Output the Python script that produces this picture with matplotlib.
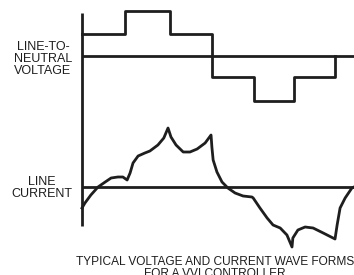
import matplotlib
matplotlib.use("Agg")
import matplotlib.pyplot as plt

plt.rcParams["font.family"] = ["Liberation Sans", "DejaVu Sans"]

# six-step line-to-neutral voltage (time in step periods, level in steps)
step_times = [0, 1.02, 2.09, 3.08, 4.08, 5.03, 6.0]
step_levels = [1.0, 2.0, 1.0, -0.95, -2.0, -0.95, 0.0]

# line current (time in step periods, arbitrary units)
cur_t = [0.00, 0.07, 0.21, 0.38, 0.55, 0.69, 0.85, 0.97, 1.07,
         1.14, 1.21, 1.33, 1.49, 1.61, 1.80, 1.94, 2.04,
         2.11, 2.23, 2.40, 2.56, 2.73, 2.92, 3.06,
         3.08, 3.11, 3.20, 3.32, 3.46, 3.63, 3.82, 4.03, 4.06,
         4.22, 4.39, 4.53, 4.70, 4.86, 4.98,
         5.00, 5.12, 5.29, 5.48, 5.72, 6.00,
         6.05, 6.12, 6.24, 6.40, 6.45]
cur_i = [-2.1, -1.6, -0.8, 0.0, 0.5, 0.9, 1.0, 1.0, 0.7,
         1.4, 2.4, 3.1, 3.4, 3.6, 4.2, 4.9, 5.9,
         5.0, 4.2, 3.5, 3.5, 3.8, 4.4, 5.2,
         4.0, 2.7, 1.5, 0.5, -0.1, -0.6, -0.9, -1.0, -1.1,
         -2.1, -3.1, -3.8, -4.1, -4.8, -6.0,
         -5.1, -4.3, -4.0, -4.1, -4.6, -5.2,
         -3.8, -2.1, -1.1, -0.1, 0.0]

volt_label = "LINE-TO-\nNEUTRAL\nVOLTAGE"
cur_label = "LINE\nCURRENT"
caption = "TYPICAL VOLTAGE AND CURRENT WAVE FORMS\nFOR A VVI CONTROLLER"

W, H = 354, 275
fig = plt.figure(figsize=(W / 100, H / 100), dpi=100)
xlim = (-82 / 42.17, (W - 82) / 42.17)
ink = "#1e1e1e"
lw = 2.0

# top panel: voltage
ax_v = fig.add_axes([0, (H - 112) / H, 1, 112 / H])
ax_v.set_xlim(xlim)
ax_v.set_ylim(-2.489, 2.489)
ax_v.axis("off")
ax_v.plot([0, xlim[1]], [0, 0], color=ink, lw=lw, solid_capstyle="butt")
ax_v.step(step_times, step_levels, where="post", color=ink, lw=lw)

# bottom panel: current
ax_i = fig.add_axes([0, (H - 262) / H, 1, 150 / H])
ax_i.set_xlim(xlim)
ax_i.set_ylim(-7.5, 7.5)
ax_i.axis("off")
ax_i.plot([0, xlim[1]], [0, 0], color=ink, lw=lw, solid_capstyle="butt")
ax_i.plot([0, 0], [17.4, -3.9], color=ink, lw=lw, clip_on=False,
          solid_capstyle="butt")
ax_i.plot(cur_t, cur_i, color=ink, lw=lw, clip_on=False)

fig.text(43 / W, 1 - 59 / H, volt_label, ha="center", va="center",
         fontsize=9.0, linespacing=1.0, color=ink)
fig.text(42 / W, 1 - 188 / H, cur_label, ha="center", va="center",
         fontsize=9.0, linespacing=1.0, color=ink)
fig.text(215 / W, 1 - 256 / H, caption, ha="center", va="top",
         fontsize=8.6, linespacing=0.95, color=ink)

fig.savefig("out.png", dpi=100)
